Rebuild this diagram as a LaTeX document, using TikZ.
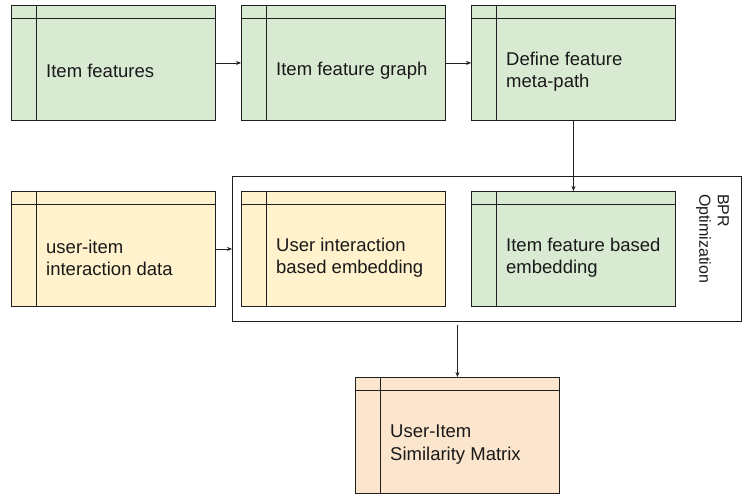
\documentclass[tikz,border=0pt]{standalone}
\usepackage{fontspec}
\setmainfont{Liberation Sans}
\usetikzlibrary{arrows.meta}

\definecolor{boxgreen}{HTML}{D9EAD3}
\definecolor{boxyellow}{HTML}{FFF2CC}
\definecolor{boxorange}{HTML}{FCE5CD}
\definecolor{edge}{HTML}{1F1F1F}

\tikzset{
  tbl/.style={draw=edge, line width=0.9pt, minimum width=204pt, minimum height=115pt, anchor=north west, inner sep=0pt},
  lbl/.style={anchor=west, align=left, font=\fontsize{18.5}{22.5}\selectfont, inner sep=0pt, text=black!90},
  arr/.style={-{Stealth[length=5pt,width=4pt]}, line width=0.7pt, draw=edge},
}

\begin{document}
\begin{tikzpicture}[x=1pt,y=1pt]
\useasboundingbox (0,0) rectangle (751,499);

% group round the two embeddings
\node [draw=edge, line width=0.9pt, minimum width=509pt, minimum height=145pt, anchor=north west, inner sep=0pt] (bpr) at (232,323) {};
\node [rotate=-90, anchor=north west, align=left, inner sep=0pt, font=\fontsize{16}{18.5}\selectfont, text=black!90] (bprt) at (729,305) {BPR\\Optimization};

% top row
\node [tbl, fill=boxgreen] (feat) at (11,494) {};
\node [tbl, fill=boxgreen] (fgraph) at (241,494) {};
\node [tbl, fill=boxgreen] (metapath) at (471,494) {};

% middle row
\node [tbl, fill=boxyellow] (inter) at (11,308) {};
\node [tbl, fill=boxyellow] (uemb) at (241,308) {};
\node [tbl, fill=boxgreen] (iemb) at (471,308) {};

% result
\node [tbl, fill=boxorange, minimum height=116pt] (sim) at (355,122) {};

% header and side lines
\foreach \n in {feat,fgraph,metapath,inter,uemb,iemb,sim}{
  \draw [edge, line width=0.9pt] ([yshift=-13pt]\n.north west) -- ([yshift=-13pt]\n.north east);
  \draw [edge, line width=0.9pt] ([xshift=25pt]\n.north west) -- ([xshift=25pt]\n.south west);
}

\node [lbl] (featt) at ([xshift=35pt,yshift=-7.5pt]feat.west) {Item features};
\node [lbl] (fgrapht) at ([xshift=35pt,yshift=-7.5pt]fgraph.west) {Item feature graph};
\node [lbl] (metapatht) at ([xshift=35pt,yshift=-9pt]metapath.west) {Define feature\\meta-path};
\node [lbl] (intert) at ([xshift=35pt,yshift=-9pt]inter.west) {user-item\\interaction data};
\node [lbl] (uembt) at ([xshift=35pt,yshift=-9pt]uemb.west) {User interaction\\based embedding};
\node [lbl] (iembt) at ([xshift=35pt,yshift=-9pt]iemb.west) {Item feature based\\embedding};
\node [lbl] (simt) at ([xshift=35pt,yshift=-9pt]sim.west) {User-Item\\Similarity Matrix};

% connectors
\draw [arr] (feat.east) -- (fgraph.west);
\draw [arr] (fgraph.east) -- (metapath.west);
\draw [arr] (metapath.south) -- (iemb.north);
\draw [arr] (inter.east) -- (inter.east -| bpr.west);
\draw [arr, shorten <=3pt] (bpr.south -| sim.north) -- (sim.north);

\end{tikzpicture}
\end{document}
